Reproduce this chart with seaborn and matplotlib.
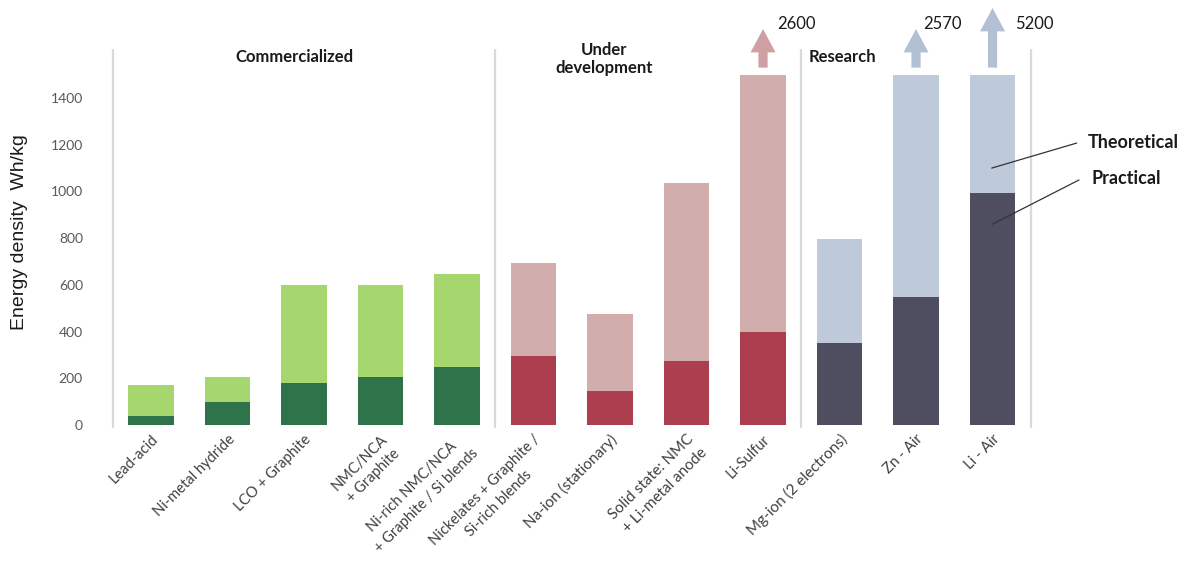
import matplotlib
matplotlib.use("Agg")
import matplotlib.pyplot as plt
import pandas as pd
import seaborn as sns

# ---------------------------------------------------------------------------
# Data (Wh/kg)
# ---------------------------------------------------------------------------
TECHS = [
    "Lead-acid",
    "Ni-metal hydride",
    "LCO + Graphite",
    "NMC/NCA\n+ Graphite",
    "Ni-rich NMC/NCA\n+ Graphite / Si blends",
    "Nickelates + Graphite /\nSi-rich blends",
    "Na-ion (stationary)",
    "Solid state: NMC\n+ Li-metal anode",
    "Li-Sulfur",
    "Mg-ion (2 electrons)",
    "Zn - Air",
    "Li - Air",
]
GROUPS = ["Commercialized"] * 5 + ["Under development"] * 4 + ["Research"] * 3
PRACTICAL = [40, 100, 180, 205, 250, 295, 145, 275, 400, 350, 550, 995]
THEORETICAL = [170, 205, 600, 600, 645, 695, 475, 1035, 2600, 795, 2570, 5200]
Y_CAP = 1500  # theoretical bars above this are cut and get an arrow
Y_TICKS = [0, 200, 400, 600, 800, 1000, 1200, 1400]

LIGHT = {"Commercialized": "#a5d76e", "Under development": "#d1adad", "Research": "#bec9d9"}
DARK = {"Commercialized": "#2f734a", "Under development": "#ad3e4f", "Research": "#4f4d60"}
ARROW = {"Under development": "#cfa0a3", "Research": "#b3bfd3"}

sns.set_theme(style="white")
plt.rcParams["font.family"] = ["Lato", "DejaVu Sans"]

df = pd.DataFrame({
    "tech": TECHS,
    "group": GROUPS,
    "practical": PRACTICAL,
    "theoretical": THEORETICAL,
})
df["theo_shown"] = df["theoretical"].clip(upper=Y_CAP)

fig = plt.figure(figsize=(11.88, 5.67), dpi=100)
ax = fig.add_axes([0.0885, 0.2504, 0.7856, 0.7416])

light_pal = [LIGHT[g] for g in GROUPS]
dark_pal = [DARK[g] for g in GROUPS]

sns.barplot(data=df, x="tech", y="theo_shown", hue="tech", palette=light_pal,
            width=0.6, saturation=1, legend=False, linewidth=0, ax=ax)
sns.barplot(data=df, x="tech", y="practical", hue="tech", palette=dark_pal,
            width=0.6, saturation=1, legend=False, linewidth=0, ax=ax)

ax.set_xlim(-0.6, 11.6)
ax.set_ylim(0, 1800)
ax.set_yticks(Y_TICKS)
ax.tick_params(axis="y", length=0, pad=16, labelsize=10, labelcolor="#595959")
ax.tick_params(axis="x", length=0, pad=5)
for side in ["top", "right", "left", "bottom"]:
    ax.spines[side].set_visible(False)
ax.set_xlabel("")
ax.set_ylabel("")

# x tick labels, rotated like the original
ax.set_xticks(range(len(TECHS)))
ax.set_xticklabels(TECHS, linespacing=1.5)
for lbl in ax.get_xticklabels():
    lbl.set_fontsize(11 if "(" in lbl.get_text() or "Solid" in lbl.get_text() else 10.5)
    lbl.set_rotation(45)
    lbl.set_ha("right")
    lbl.set_va("top")
    lbl.set_rotation_mode("anchor")
    lbl.set_multialignment("center")
    lbl.set_color("#404040")

# group separators
for xs in [-0.5, 4.5, 8.5, 11.5]:
    ax.plot([xs, xs], [-10, 1605], color="#d9d9d9", lw=1.6, clip_on=False, zorder=0)

# group titles
ax.text(1.88, 1575, "Commercialized", ha="center", va="center",
        fontsize=12, fontweight="bold", color="#1a1a1a")
ax.text(5.92, 1567, "Under\ndevelopment", ha="center", va="center",
        fontsize=12, fontweight="bold", color="#1a1a1a", linespacing=1.2)
ax.text(8.6, 1575, "Research", ha="left", va="center",
        fontsize=12, fontweight="bold", color="#1a1a1a")

# arrows for theoretical values beyond the axis
for i, row in df.iterrows():
    if row["theoretical"] <= Y_CAP:
        continue
    tip = 1785 if row["theoretical"] > 4000 else 1695
    ax.annotate("", xy=(i, tip), xytext=(i, 1530),
                arrowprops=dict(arrowstyle="simple,head_length=1.4,head_width=1.5,tail_width=0.55",
                                color=ARROW[row["group"]], shrinkA=0, shrinkB=0, lw=0),
                annotation_clip=False)
    dx = 0.3 if row["theoretical"] > 4000 else (0.18 if i == 8 else 0.1)
    ax.text(i + dx, 1717, f"{row['theoretical']}", ha="left", va="center",
            fontsize=12, color="#1a1a1a", clip_on=False)

# callouts on the last bar
ax.plot([10.99, 12.1], [1100, 1207], color="#333333", lw=0.9, clip_on=False)
ax.plot([11.0, 12.13], [860, 1049], color="#333333", lw=0.9, clip_on=False)
ax.text(12.25, 1211, "Theoretical", ha="left", va="center", fontsize=13,
        fontweight="bold", color="#1a1a1a", clip_on=False)
ax.text(12.29, 1057, "Practical", ha="left", va="center", fontsize=13,
        fontweight="bold", color="#1a1a1a", clip_on=False)

fig.text(20 / 1188, 1 - 232 / 567, "Energy density  Wh/kg", rotation=90,
         ha="center", va="center", fontsize=14, family="Liberation Sans",
         color="#1a1a1a")

fig.savefig("out.png", dpi=100)
